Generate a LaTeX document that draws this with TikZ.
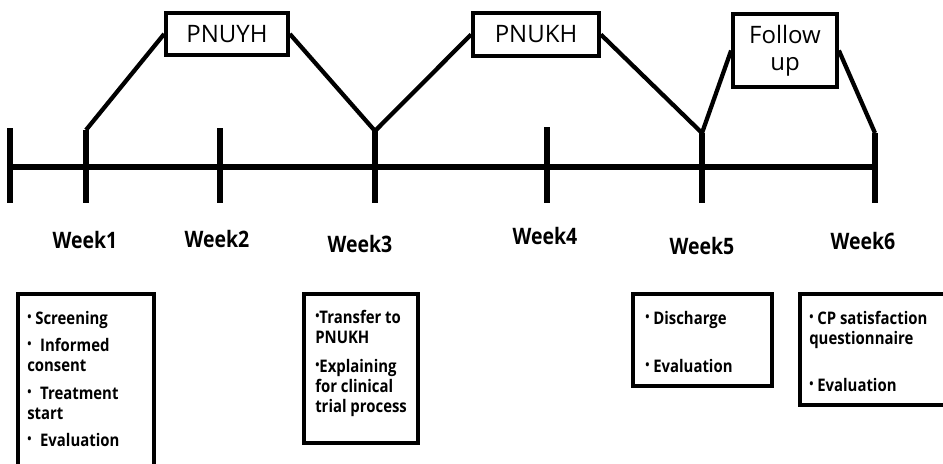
\documentclass[tikz,border=0pt]{standalone}
\usepackage{fontspec}
\usepackage{graphicx}
\setmainfont{Open Sans}
\newfontfamily\condfont[FakeStretch=0.86]{Open Sans}
\usetikzlibrary{positioning}
\newcommand{\dotmark}{\raisebox{0.3ex}{\scalebox{0.75}{\textbullet}}}
\tikzset{
  weektick/.style={line width=4.2pt},
  link/.style={line width=3.2pt},
  sitebox/.style={draw, line width=2.8pt, inner sep=0pt, align=center,
    font=\fontsize{18}{20}\selectfont},
  weeklabel/.style={anchor=base, inner sep=0pt,
    font=\condfont\bfseries\fontsize{17}{19}\selectfont},
  notebox/.style={line width=2.5pt},
  notetext/.style={anchor=north west, inner sep=0pt, align=left,
    font=\condfont\bfseries\fontsize{13}{15}\selectfont}
}

\begin{document}
\begin{tikzpicture}[x=0.75pt, y=-0.75pt]
                \useasboundingbox (0,0) rectangle (943,464);
                \clip (0,0) rectangle (943,464);

                % Timeline
                \coordinate (axisL) at (10,167);
                \coordinate (axisR) at (875,167);
                \draw[weektick] (axisL) -- (axisR);

                % Ticks
                \foreach \i/\x/\top in {0/10/128,1/86/130,2/220/128,3/375/131,4/547/127,5/702/133,6/875/133} {
                    \coordinate (top\i) at (\x,\top);
                    \coordinate (bot\i) at (\x,203);
                    \draw[weektick] (top\i) -- (bot\i);
                }

                % Sites
                \node[sitebox, minimum width=91.5pt, minimum height=31.5pt] (yh) at (227,34) {PNUYH};
                \node[sitebox, minimum width=94.5pt, minimum height=32pt] (kh) at (536,34.5) {PNUKH};
                \node[sitebox, minimum width=78pt, minimum height=55pt] (fu) at (785,50.5) {Follow\\up};

                \draw[link] (top1) -- (yh.west);
                \draw[link] (yh.east) -- (top3);
                \draw[link] (top3) -- (kh.west);
                \draw[link] (kh.east) -- (top5);
                \draw[link] (top5) -- (fu.west);
                \draw[link] (fu.east) -- (top6);

                % Weeks
                \node[weeklabel] (w1) at (85,248) {Week1};
                \node[weeklabel] (w2) at (217,247) {Week2};
                \node[weeklabel] (w3) at (360,252) {Week3};
                \node[weeklabel] (w4) at (545,244) {Week4};
                \node[weeklabel] (w5) at (702,254) {Week5};
                \node[weeklabel] (w6) at (863,249) {Week6};

                % Notes
                \draw[notebox] (18,294) rectangle (154,480);
                \node[notetext] (n1) at (27,311) {\dotmark\ Screening\\[5.5pt]
                    \dotmark\enspace Informed\\consent\\[5.5pt]
                    \dotmark\enspace Treatment\\start\\[5.5pt]
                    \dotmark\enspace Evaluation};

                \draw[notebox] (304,294) rectangle (418,443);
                \node[notetext] (n3) at (315,310) {\dotmark Transfer to\\PNUKH\\[6.5pt]
                    \dotmark Explaining\\for clinical\\trial process};

                \draw[notebox] (633,294) rectangle (772,386);
                \node[notetext] (n5) at (645,311) {\dotmark\ Discharge\\[21pt]
                    \dotmark\ Evaluation};

                \draw[notebox] (800,294) rectangle (960,405);
                \node[notetext] (n6) at (809,311) {\dotmark\ CP satisfaction\\questionnaire\\[20pt]
                    \dotmark\ Evaluation};
\end{tikzpicture}
\end{document}
